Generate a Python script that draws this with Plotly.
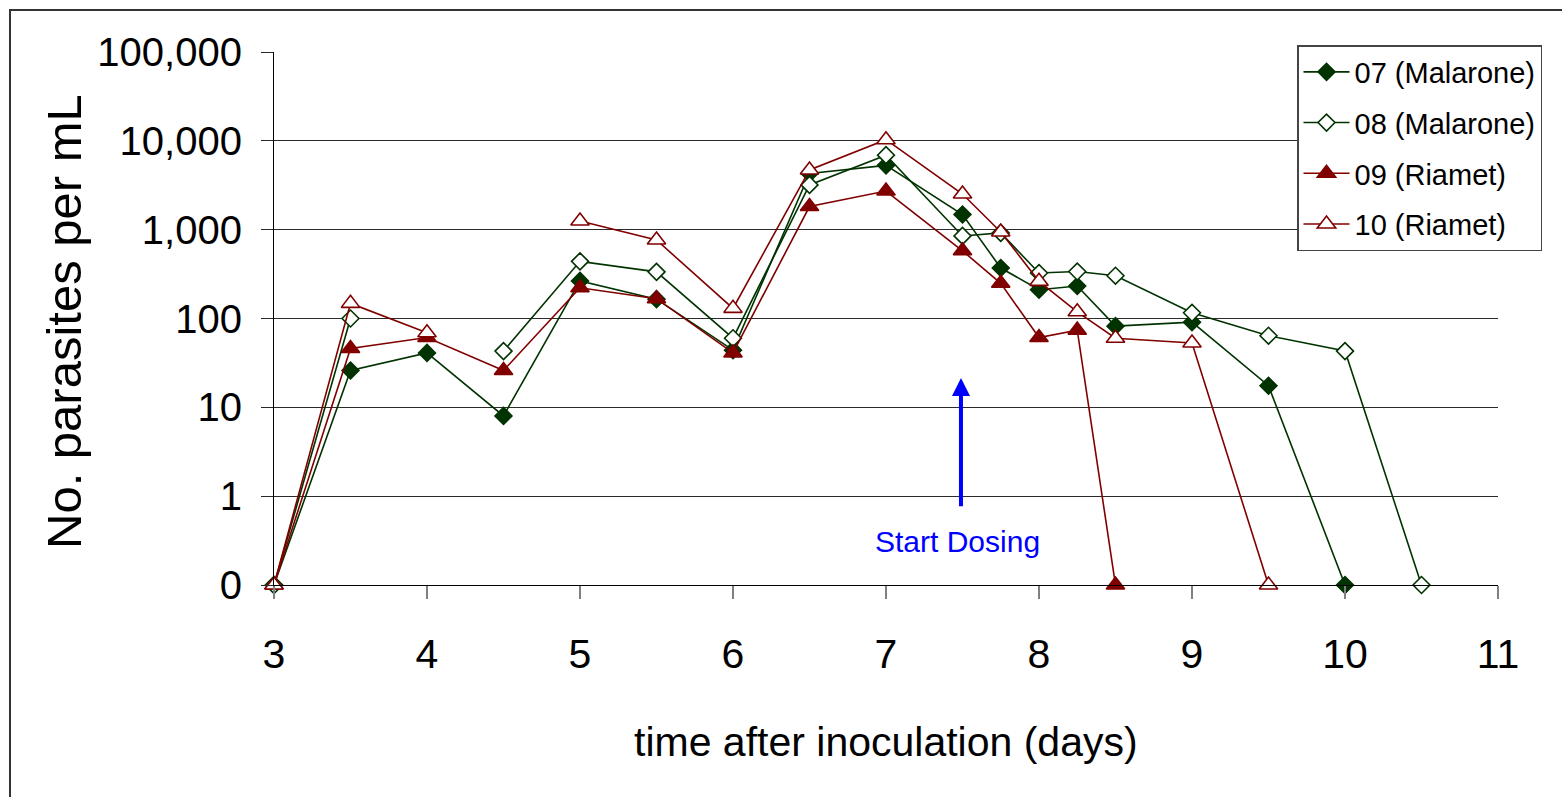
import plotly.graph_objects as go

# ---------------- data ----------------
days = [3, 3.5, 4, 4.5, 5, 5.5, 6, 6.5, 7, 7.5, 7.75, 8, 8.25, 8.5, 9, 9.5, 10, 10.5]

s07 = [0, 26, 41, 8, 265, 165, 44, 4300, 5300, 1480, 370, 211, 232, 82, 91, 17.5, 0, None]
s08 = [0, 100, None, 43, 440, 335, 60, 3190, 6900, 850, 920, 325, 338, 303, 116, 64, 43, 0]
s09 = [0, 46, 61, 26, 222, 167, 41, 1820, 2720, 578, 249, 61, 74, 0, None, None, None, None]
s10 = [0, 148, 69, None, 1250, 765, 130, 4700, 10300, 2520, 940, 262, 119, 60, 53, 0, None, None]

series_names = ["07 (Malarone)", "08 (Malarone)", "09 (Riamet)", "10 (Riamet)"]

y_tick_vals = [0.1, 1, 10, 100, 1000, 10000, 100000]
y_tick_text = ["0", "1", "10", "100", "1,000", "10,000", "100,000"]
x_tick_vals = [3, 4, 5, 6, 7, 8, 9, 10, 11]

ZERO_POS = 0.1  # "0" is drawn one decade below 1 on the log axis

GREEN = "#003300"
RED = "#800000"

styles = [
    dict(symbol="diamond", color=GREEN, fill=GREEN, size=13),
    dict(symbol="diamond", color=GREEN, fill="white", size=13),
    dict(symbol="triangle-up", color=RED, fill=RED, size=16),
    dict(symbol="triangle-up", color=RED, fill="white", size=16),
]


def to_plot(vals):
    return [None if v is None else (ZERO_POS if v == 0 else v) for v in vals]


fig = go.Figure()
for name, vals, st in zip(series_names, [s07, s08, s09, s10], styles):
    fig.add_trace(go.Scatter(
        x=days, y=to_plot(vals), name=name, mode="lines+markers",
        legendgroup=name, cliponaxis=False,
        line=dict(color=st["color"], width=1.6),
        marker=dict(symbol=st["symbol"], size=st["size"],
                    color=st["fill"], line=dict(color=st["color"], width=1.6)),
        connectgaps=False,
    ))

W, H = 1562, 797
L, R, T, B = 274, 1498, 52, 585
pw, ph = R - L, B - T


def px(xp):
    return (xp - L) / pw


def py(yp):
    return (B - yp) / ph


SANS = "Liberation Sans, Arial, sans-serif"

fig.update_layout(
    width=W, height=H,
    margin=dict(l=L, r=W - R, t=T, b=H - B, pad=0),
    paper_bgcolor="white", plot_bgcolor="white",
    font=dict(family=SANS, color="black"),
    showlegend=True,
    legend=dict(
        x=px(1297), y=py(45), xanchor="left", yanchor="top",
        bgcolor="white", bordercolor="#444444", borderwidth=1.5,
        font=dict(family=SANS, size=29, color="black"),
        tracegroupgap=10, itemwidth=46,
    ),
    xaxis=dict(
        range=[3, 11], tickvals=x_tick_vals, showgrid=False, zeroline=False,
        showline=True, linecolor="black", linewidth=1.2,
        ticks="outside", ticklen=13, tickcolor="#808080", tickwidth=1.5,
        tickfont=dict(family=SANS, size=41, color="black"),
        ticklabelstandoff=20,
    ),
    yaxis=dict(
        type="log", range=[-1, 5], tickvals=y_tick_vals, ticktext=y_tick_text,
        showgrid=True, gridcolor="#2b2b2b", gridwidth=1, zeroline=False,
        showline=True, linecolor="black", linewidth=1.2,
        ticks="outside", ticklen=12, tickcolor="#2b2b2b", tickwidth=1,
        tickfont=dict(family=SANS, size=40, color="black"),
        ticklabelstandoff=11,
    ),
    annotations=[
        dict(text="No. parasites per mL", xref="paper", yref="paper",
             x=px(64), y=py(322), xanchor="center", yanchor="middle",
             textangle=-90, showarrow=False,
             font=dict(family=SANS, size=49, color="black")),
        dict(text="time after inoculation (days)", xref="paper", yref="paper",
             x=px(886), y=py(742), xanchor="center", yanchor="middle",
             showarrow=False, font=dict(family=SANS, size=41, color="black")),
        dict(text="", xref="x", yref="y", x=7.49, y=1.33,
             axref="x", ayref="y", ax=7.49, ay=-0.13,
             showarrow=True, arrowhead=2, arrowsize=0.9, arrowwidth=4,
             arrowcolor="#0000FF"),
        dict(text="Start Dosing", xref="x", yref="y", x=7.47, y=-0.505,
             xanchor="center", yanchor="middle", showarrow=False,
             font=dict(family=SANS, size=30, color="#0000FF")),
    ],
    shapes=[
        dict(type="rect", xref="paper", yref="paper",
             x0=px(10), x1=px(W + 20), y0=py(H + 20), y1=py(10),
             line=dict(color="#333333", width=2), fillcolor="rgba(0,0,0,0)",
             layer="below"),
    ],
)

fig.write_html("out.html")
